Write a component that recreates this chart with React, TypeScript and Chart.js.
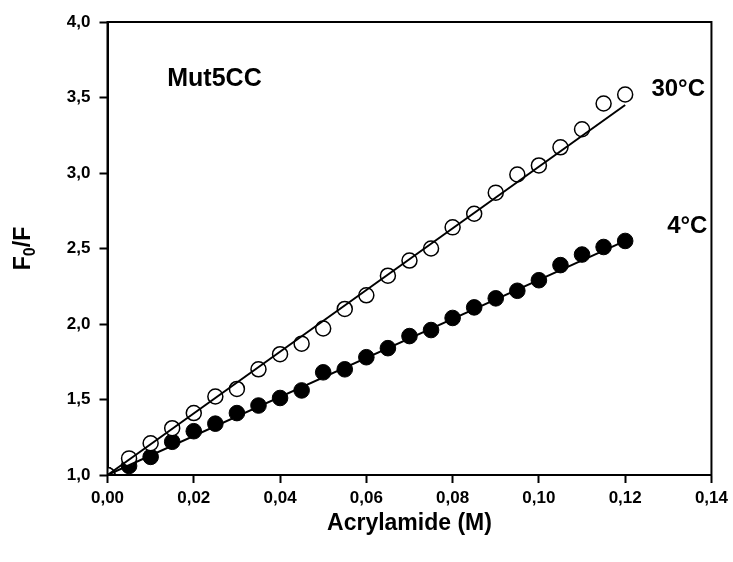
import React, { useEffect, useRef } from "react";
import { Chart, registerables } from "chart.js";

Chart.register(...registerables);

const concentrations = [
  0, 0.005, 0.01, 0.015, 0.02, 0.025, 0.03, 0.035, 0.04, 0.045, 0.05, 0.055, 0.06,
  0.065, 0.07, 0.075, 0.08, 0.085, 0.09, 0.095, 0.1, 0.105, 0.11, 0.115, 0.12,
];
const f0f30C = [
  1.0, 1.11, 1.21, 1.31, 1.41, 1.52, 1.57, 1.7, 1.8, 1.87, 1.97, 2.1, 2.19,
  2.32, 2.42, 2.5, 2.64, 2.73, 2.87, 2.99, 3.05, 3.17, 3.29, 3.46, 3.52,
];
const f0f4C = [
  1.0, 1.06, 1.12, 1.22, 1.29, 1.34, 1.41, 1.46, 1.51, 1.56, 1.68, 1.7, 1.78,
  1.84, 1.92, 1.96, 2.04, 2.11, 2.17, 2.22, 2.29, 2.39, 2.46, 2.51, 2.55,
];
const fitX = [0, 0.12];
const fit30C = [1.0, 3.45];
const fit4C = [1.0, 2.55];

const xTicks = [0, 0.02, 0.04, 0.06, 0.08, 0.1, 0.12, 0.14];
const yTicks = [1.0, 1.5, 2.0, 2.5, 3.0, 3.5, 4.0];

const annotations = [
  { text: "Mut5CC", x: 0.0248, y: 3.62, size: 25 },
  { text: "30°C", x: 0.1323, y: 3.556, size: 24 },
  { text: "4°C", x: 0.1344, y: 2.647, size: 24 },
];

const FONT = "'Liberation Sans', Arial, sans-serif";

const pairs = (xs: number[], ys: number[]) => xs.map((x, i) => ({ x, y: ys[i] }));

const textPlugin = {
  id: "texts",
  afterDraw(chart: any) {
    const ctx = chart.ctx;
    const { left, right, top, bottom } = chart.chartArea;
    const xs = chart.scales.x;
    const ys = chart.scales.y;
    ctx.save();
    ctx.strokeStyle = "#000";
    ctx.lineWidth = 2;
    ctx.strokeRect(left, top, right - left, bottom - top);
    ctx.fillStyle = "#000";
    ctx.textAlign = "center";
    ctx.textBaseline = "middle";
    annotations.forEach((a) => {
      ctx.font = `bold ${a.size}px ${FONT}`;
      ctx.fillText(a.text, xs.getPixelForValue(a.x), ys.getPixelForValue(a.y));
    });
    ctx.font = `bold 23px ${FONT}`;
    ctx.fillText("Acrylamide (M)", (left + right) / 2, bottom + 49);
    ctx.translate(23, (top + bottom) / 2);
    ctx.rotate(-Math.PI / 2);
    ctx.textAlign = "left";
    ctx.textBaseline = "alphabetic";
    const big = `bold 23px ${FONT}`;
    const small = `bold 16px ${FONT}`;
    ctx.font = big;
    const wF = ctx.measureText("F").width;
    const wSlash = ctx.measureText("/F").width;
    ctx.font = small;
    const w0 = ctx.measureText("0").width;
    const total = wF + w0 + wSlash;
    let cx = -total / 2;
    const base = 7;
    ctx.font = big;
    ctx.fillText("F", cx, base);
    cx += wF;
    ctx.font = small;
    ctx.fillText("0", cx, base + 5);
    cx += w0;
    ctx.font = big;
    ctx.fillText("/F", cx, base);
    ctx.restore();
  },
};

export default function App() {
  const ref = useRef<HTMLCanvasElement | null>(null);
  useEffect(() => {
    document.body.style.margin = "0";
    const canvas = ref.current!;
    const tickFont = { family: FONT, size: 17, weight: "bold" as const };
    const chart = new Chart(canvas, {
      type: "scatter",
      data: {
        datasets: [
          {
            label: "fit 30°C",
            data: pairs(fitX, fit30C),
            showLine: true,
            borderColor: "#000",
            borderWidth: 2,
            pointRadius: 0,
            order: 0,
          },
          {
            label: "fit 4°C",
            data: pairs(fitX, fit4C),
            showLine: true,
            borderColor: "#000",
            borderWidth: 2,
            pointRadius: 0,
            order: 0,
          },
          {
            label: "30°C",
            data: pairs(concentrations, f0f30C),
            showLine: false,
            pointRadius: 7.5,
            pointBorderWidth: 1.5,
            pointBorderColor: "#000",
            pointBackgroundColor: "#fff",
            order: 1,
          },
          {
            label: "4°C",
            data: pairs(concentrations, f0f4C),
            showLine: false,
            pointRadius: 7.8,
            pointBorderWidth: 1,
            pointBorderColor: "#000",
            pointBackgroundColor: "#000",
            order: 2,
          },
        ],
      },
      options: {
        responsive: false,
        animation: false,
        devicePixelRatio: 1,
        layout: { padding: { top: 22, right: 21, left: 0, bottom: 0 } },
        plugins: { legend: { display: false }, tooltip: { enabled: false } },
        scales: {
          x: {
            type: "linear",
            min: 0,
            max: 0.14,
            afterBuildTicks: (s: any) => {
              s.ticks = xTicks.map((v) => ({ value: v }));
            },
            afterFit: (s: any) => {
              s.height = 87;
            },
            ticks: {
              font: tickFont,
              color: "#000",
              padding: 5,
              maxRotation: 0,
              callback: (v: any) => Number(v).toFixed(2).replace(".", ","),
            },
            grid: {
              drawOnChartArea: false,
              drawTicks: true,
              tickLength: 8,
              tickWidth: 2,
              color: "#000",
            },
            border: { display: true, color: "#000", width: 2 },
          },
          y: {
            type: "linear",
            min: 1,
            max: 4,
            afterBuildTicks: (s: any) => {
              s.ticks = yTicks.map((v) => ({ value: v }));
            },
            afterFit: (s: any) => {
              s.width = 107.5;
            },
            ticks: {
              font: tickFont,
              color: "#000",
              padding: 9,
              callback: (v: any) => Number(v).toFixed(1).replace(".", ","),
            },
            grid: {
              drawOnChartArea: false,
              drawTicks: true,
              tickLength: 8,
              tickWidth: 2,
              color: "#000",
            },
            border: { display: true, color: "#000", width: 2 },
          },
        },
      },
      plugins: [textPlugin],
    });
    return () => chart.destroy();
  }, []);
  return (
    <div style={{ width: 733, height: 562 }}>
      <canvas ref={ref} width={733} height={562} style={{ display: "block" }} />
    </div>
  );
}
